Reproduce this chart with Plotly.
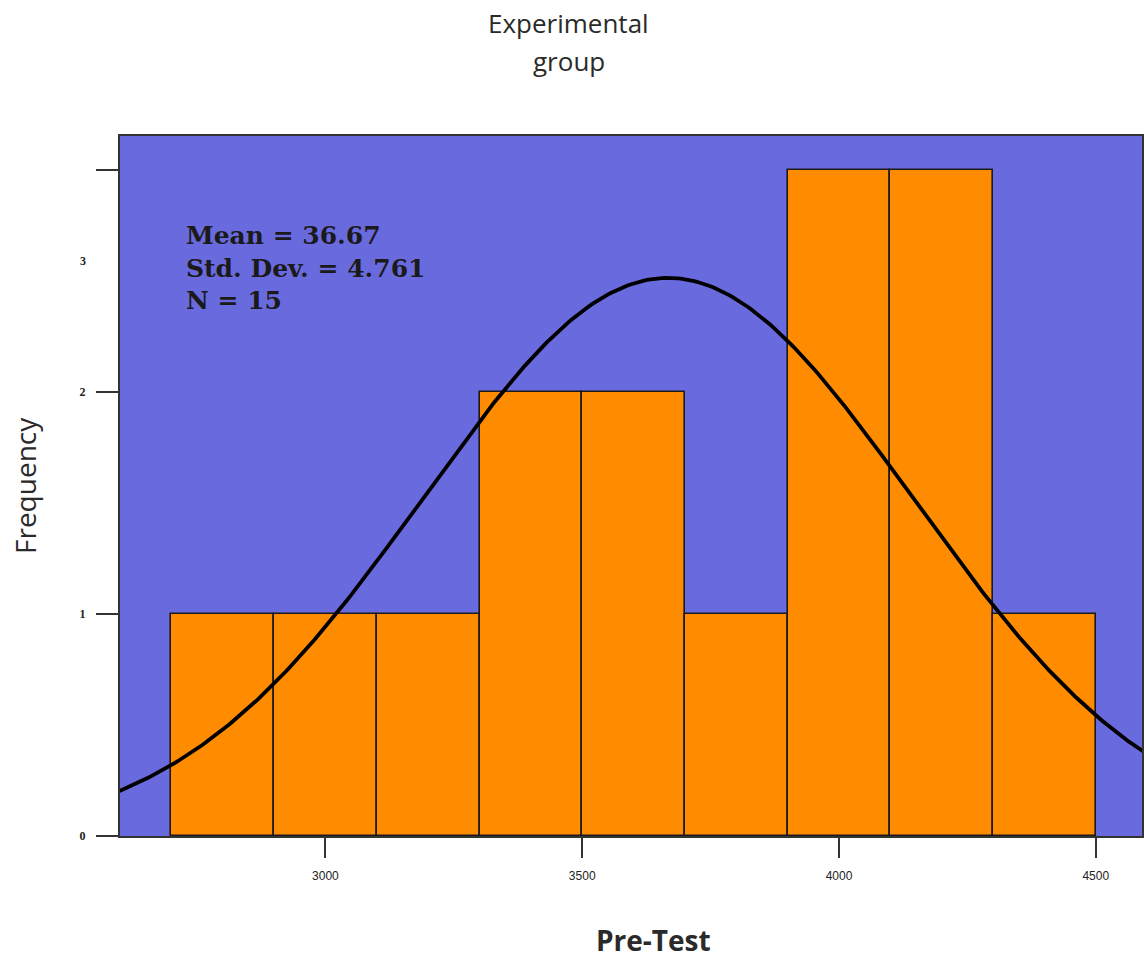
import numpy as np
import plotly.graph_objects as go

# Data
bin_centers = [2800, 3000, 3200, 3400, 3600, 3800, 4000, 4200, 4400]
counts = [1, 1, 1, 2, 2, 1, 3, 3, 1]
bin_width = 200
mean_val = 3667.0
sd_val = 476.1
n_val = 15
x_ticks = [3000, 3500, 4000, 4500]
x_tick_text = ["3000", "3500", "4000", "4500"]
y_ticks = [0, 1, 2, 3]
y_tick_text = ["<b>0</b>", "<b>1</b>", "<b>2</b>", ""]
stats_lines = ["Mean = 36.67", "Std. Dev. = 4.761", "N = 15"]
title_lines = ["Experimental", "group"]

x_range = [2600, 4590]
y_range = [0, 3.153]

# fitted normal curve from the stated mean / sd
xs = np.linspace(x_range[0] - 50, x_range[1] + 50, 400)
ys = n_val * bin_width / (sd_val * np.sqrt(2 * np.pi)) * np.exp(-0.5 * ((xs - mean_val) / sd_val) ** 2)

fig = go.Figure()
fig.add_trace(go.Bar(
    x=bin_centers, y=counts, width=bin_width,
    marker=dict(color="#FF8C00", line=dict(color="#1a1a1a", width=1.6)),
    showlegend=False, hoverinfo="skip",
))
fig.add_trace(go.Scatter(
    x=xs, y=ys, mode="lines",
    line=dict(color="black", width=3.8),
    showlegend=False, hoverinfo="skip",
))

fig.update_layout(
    width=1144, height=960,
    margin=dict(l=120, r=0, t=136, b=124),
    paper_bgcolor="white",
    plot_bgcolor="#6A6ADF",
    bargap=0,
    xaxis=dict(
        range=x_range, tickvals=x_ticks, ticktext=x_tick_text,
        ticks="outside", ticklen=20, tickwidth=2, tickcolor="#333333",
        ticklabelstandoff=8,
        showgrid=False, zeroline=False,
        showline=True, linecolor="#333333", linewidth=2, mirror=True,
        tickfont=dict(family="Liberation Sans Narrow, Liberation Sans, sans-serif", size=12, color="#222222"),
    ),
    yaxis=dict(
        range=y_range, tickvals=y_ticks, ticktext=y_tick_text,
        ticks="outside", ticklen=22, tickwidth=2, tickcolor="#333333",
        ticklabelstandoff=8,
        showgrid=False, zeroline=False,
        showline=True, linecolor="#333333", linewidth=2, mirror=True,
        tickfont=dict(family="Liberation Serif, serif", size=12, color="#222222"),
    ),
)

# misplaced "3" label as in the original
fig.add_annotation(
    x=0, xref="paper", y=2.59, yref="y", xanchor="right", xshift=-32,
    text="<b>3</b>", showarrow=False,
    font=dict(family="Liberation Serif, serif", size=12, color="#222222"),
)

# title (two lines)
for line, shift in zip(title_lines, [113, 75]):
    fig.add_annotation(
        x=0.439, xref="paper", y=1, yref="paper", yshift=shift,
        xanchor="center", yanchor="middle", text=line, showarrow=False,
        font=dict(family="Open Sans, DejaVu Sans, sans-serif", size=26, color="#2a2a2a"),
    )

# axis titles
fig.add_annotation(
    x=0, xref="paper", xshift=-95, y=0.5, yref="paper",
    xanchor="center", yanchor="middle", textangle=-90,
    text="Frequency", showarrow=False,
    font=dict(family="Open Sans, DejaVu Sans, sans-serif", size=28, color="#2a2a2a"),
)
fig.add_annotation(
    x=0.522, xref="paper", y=0, yref="paper", yshift=-104,
    xanchor="center", yanchor="middle",
    text="<b>Pre-Test</b>", showarrow=False,
    font=dict(family="Open Sans, DejaVu Sans, sans-serif", size=28, color="#2a2a2a"),
)

# statistics box
fig.add_annotation(
    x=0.063, xref="paper", y=(836 - 268) / 700, yref="paper",
    xanchor="left", yanchor="middle", align="left",
    text="<br>".join(stats_lines), showarrow=False,
    font=dict(family="DejaVu Serif, Liberation Serif, serif", size=25, color="#1a1a1a", weight="bold"),
)

fig.write_html("out.html", post_script="document.body.style.margin='0';",
               config={"displayModeBar": False})
